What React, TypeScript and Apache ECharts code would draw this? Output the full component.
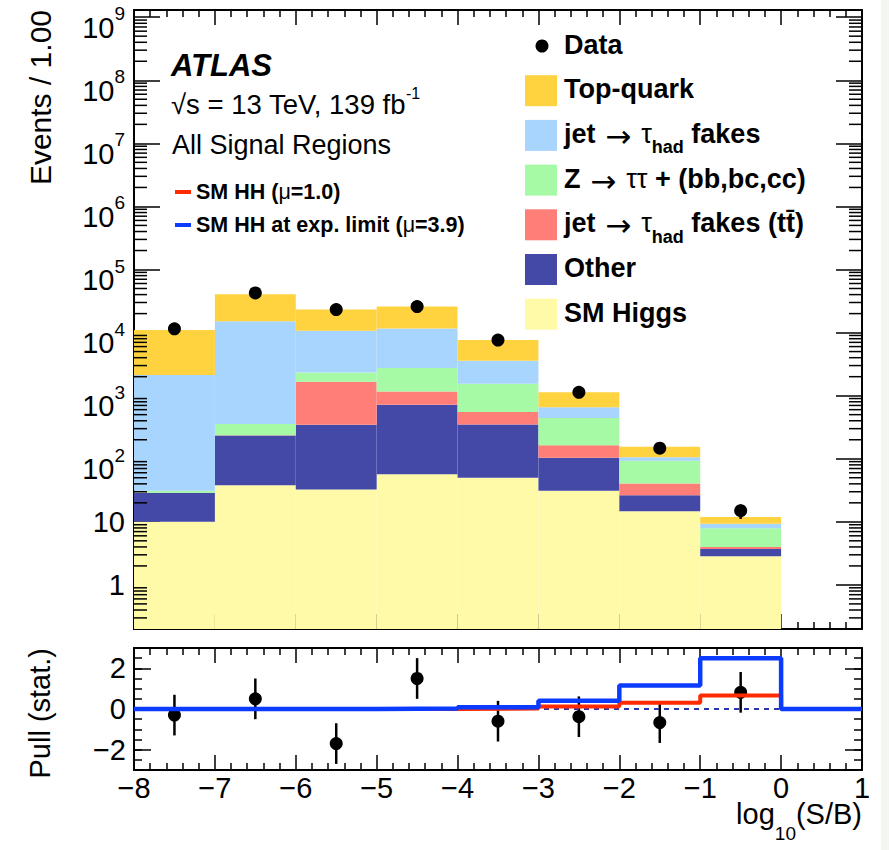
import React, { useEffect, useRef } from 'react';
import * as echarts from 'echarts';

const FONT = '"Liberation Sans", Arial, Helvetica, sans-serif';
const SYMBOL_FONT = '"DejaVu Sans", sans-serif';

// log10(S/B) binning: lower edges of the filled bins, plus the full axis range
const BIN_LOW = [-8, -7, -6, -5, -4, -3, -2, -1];
const BIN_EDGES = [-8, -7, -6, -5, -4, -3, -2, -1, 0, 1];
const X_MIN = -8;
const X_MAX = 1;
const Y_MIN = 0.2;
const Y_MAX = 1.3e9;

// Background yields per bin, listed from the bottom of the stack upwards
const SM_HIGGS = [10, 38, 32.5, 57, 50, 31, 14.7, 2.84];
const OTHER = [19, 196, 315, 659, 298, 73, 11.7, 0.86];
const JET_FAKES_TTBAR = [0, 2, 1322, 444, 205, 60, 14.3, 0.3];
const ZTT_HF = [2, 121, 670, 1590, 987, 280, 52.3, 3.9];
const JET_FAKES = [2100, 14800, 8360, 8850, 2050, 211, 13, 1.4];
const TOP_QUARK = [8900, 25300, 12500, 14200, 4010, 475, 49, 2.6];

// Observed events per bin
const DATA = [11500, 42500, 23200, 25800, 7600, 1130, 147, 15];

// Lower panel: pulls and HH signal contributions (one value per interval, incl. [0,1])
const PULL = [-0.3, 0.5, -1.7, 1.5, -0.6, -0.38, -0.67, 0.82];
const HH_SM = [0, 0, 0, 0.005, 0.02, 0.12, 0.31, 0.67, 0];
const HH_LIMIT = [0, 0, 0, 0.02, 0.08, 0.4, 1.15, 2.5, 0];

const PULL_LABELS = [-2, 0, 2];

// Log-axis minor tick positions: 2..9 times each decade inside the axis range
const DECADES = [-1, 0, 1, 2, 3, 4, 5, 6, 7, 8, 9];
const MANTISSAS = [2, 3, 4, 5, 6, 7, 8, 9];
const LOG_MINOR_TICKS = DECADES.flatMap((k) => MANTISSAS.map((m) => m * Math.pow(10, k))).filter(
  (v) => v > Y_MIN && v < Y_MAX
);

const COLORS = {
  top: '#ffd340',
  jet: '#a8d5fd',
  ztt: '#a6f9a5',
  ttbar: '#ff7f78',
  other: '#4449a8',
  higgs: '#fffaa8',
  hh: '#ff2a00',
  hhLimit: '#0b3bff',
};

const STACK = [
  { name: 'SM Higgs', values: SM_HIGGS, color: COLORS.higgs },
  { name: 'Other', values: OTHER, color: COLORS.other },
  { name: 'jet fakes (ttbar)', values: JET_FAKES_TTBAR, color: COLORS.ttbar },
  { name: 'Ztautau + HF', values: ZTT_HF, color: COLORS.ztt },
  { name: 'jet fakes', values: JET_FAKES, color: COLORS.jet },
  { name: 'Top-quark', values: TOP_QUARK, color: COLORS.top },
];

const ARROW = '{r|\u00a0\u2192\u00a0}';
const LEGEND_ROWS = [
  { color: COLORS.top, text: '{n|Top-quark}' },
  { color: COLORS.jet, text: '{n|jet}' + ARROW + '{a|\u03c4}{u|had}{n|\u00a0fakes}' },
  { color: COLORS.ztt, text: '{n|Z}' + ARROW + '{a|\u03c4\u03c4}{n|\u00a0+ (bb,bc,cc)}' },
  { color: COLORS.ttbar, text: '{n|jet}' + ARROW + '{a|\u03c4}{u|had}{n|\u00a0fakes (tt\u0304)}' },
  { color: COLORS.other, text: '{n|Other}' },
  { color: COLORS.higgs, text: '{n|SM Higgs}' },
];

const BLACK = '#000';
const AXIS_LINE = { show: true, onZero: false, lineStyle: { color: BLACK, width: 2 } };
const NO_AXIS_LINE = { show: false, onZero: false };
const TICK_STYLE = { color: BLACK, width: 1.5 };
const MINOR_TICK_LEN = 13;

function stackSeries() {
  const running = BIN_LOW.map(() => 0);
  return STACK.map((layer) => {
    const data = BIN_LOW.map((x0, i) => {
      const lo = running[i] > 0 ? running[i] : Y_MIN;
      running[i] += layer.values[i];
      return [x0, x0 + 1, lo, Math.max(running[i], Y_MIN)];
    });
    return {
      type: 'custom',
      name: layer.name,
      xAxisIndex: 0,
      yAxisIndex: 0,
      encode: { x: [0, 1], y: [2, 3] },
      data,
      clip: true,
      renderItem: (_p: any, api: any) => {
        const a = api.coord([api.value(0), api.value(3)]);
        const b = api.coord([api.value(1), api.value(2)]);
        return {
          type: 'rect',
          shape: { x: a[0], y: a[1], width: b[0] - a[0], height: b[1] - a[1] },
          style: { fill: layer.color },
        };
      },
    };
  });
}

// Minor ticks of the logarithmic axes, placed through the y scale on both frame sides
function logMinorTickSeries() {
  return {
    type: 'custom',
    xAxisIndex: 0,
    yAxisIndex: 0,
    encode: { x: 0, y: 1 },
    data: LOG_MINOR_TICKS.map((v) => [X_MIN, v]),
    z: 5,
    silent: true,
    renderItem: (_p: any, api: any) => {
      const l = api.coord([X_MIN, api.value(1)]);
      const r = api.coord([X_MAX, api.value(1)]);
      return {
        type: 'group',
        children: [
          {
            type: 'line',
            shape: { x1: l[0], y1: l[1], x2: l[0] + MINOR_TICK_LEN, y2: l[1] },
            style: { stroke: BLACK, lineWidth: 1.5 },
          },
          {
            type: 'line',
            shape: { x1: r[0] - MINOR_TICK_LEN, y1: r[1], x2: r[0], y2: r[1] },
            style: { stroke: BLACK, lineWidth: 1.5 },
          },
        ],
      };
    },
  };
}

function errorBarSeries(xIdx: number, yIdx: number, data: number[][]) {
  return {
    type: 'custom',
    xAxisIndex: xIdx,
    yAxisIndex: yIdx,
    encode: { x: 0, y: [1, 2] },
    data,
    renderItem: (_p: any, api: any) => {
      const a = api.coord([api.value(0), api.value(1)]);
      const b = api.coord([api.value(0), api.value(2)]);
      return {
        type: 'line',
        shape: { x1: a[0], y1: a[1], x2: b[0], y2: b[1] },
        style: { stroke: BLACK, lineWidth: 2.5 },
      };
    },
  };
}

function stepLine(values: number[]) {
  return BIN_EDGES.map((x, i) => [x, values[Math.min(i, values.length - 1)]]);
}

function xAxis(gridIndex: number, position: string, labels: boolean) {
  return {
    type: 'value',
    gridIndex,
    position,
    min: X_MIN,
    max: X_MAX,
    interval: 1,
    axisLine: AXIS_LINE,
    axisTick: { show: true, inside: true, length: 15, lineStyle: TICK_STYLE },
    minorTick: { show: true, splitNumber: 5, length: 7, lineStyle: TICK_STYLE },
    splitLine: { show: false },
    axisLabel: labels
      ? {
          show: true,
          margin: 3,
          fontSize: 29,
          fontFamily: FONT,
          color: BLACK,
          formatter: (v: number) => (v < 0 ? '\u2212' + Math.abs(v) : String(v)),
        }
      : { show: false },
  };
}

function hiddenXAxis(gridIndex: number) {
  return { type: 'value', gridIndex, min: X_MIN, max: X_MAX, show: false };
}

function logYAxis(position: string, labels: boolean) {
  return {
    type: 'log',
    logBase: 10,
    gridIndex: 0,
    position,
    min: Y_MIN,
    max: Y_MAX,
    axisLine: AXIS_LINE,
    axisTick: { show: true, inside: true, length: 26, lineStyle: TICK_STYLE },
    splitLine: { show: false },
    axisLabel: labels
      ? {
          show: true,
          margin: 9,
          color: BLACK,
          fontFamily: FONT,
          formatter: (v: number) => {
            const l = Math.log10(v);
            const k = Math.round(l);
            if (Math.abs(l - k) > 1e-6) return '';
            if (k === 0) return '{b|1}';
            if (k === 1) return '{b|10}';
            return `{p|10}{s|${k}}`;
          },
          rich: {
            b: { fontSize: 29, fontFamily: FONT, color: BLACK },
            p: { fontSize: 29, fontFamily: FONT, color: BLACK, lineHeight: 26, padding: [9, 0, 0, 0], verticalAlign: 'top' },
            s: { fontSize: 19, fontFamily: FONT, color: BLACK, lineHeight: 20, verticalAlign: 'top' },
          },
        }
      : { show: false },
  };
}

function pullYAxis(gridIndex: number, position: string, labels: boolean, major: boolean) {
  return {
    type: 'value',
    gridIndex,
    position,
    min: major ? -2 : -3,
    max: major ? 2 : 3,
    interval: major ? 2 : 0.5,
    axisLine: major ? NO_AXIS_LINE : AXIS_LINE,
    axisTick: { show: true, inside: true, length: major ? 17 : 8, lineStyle: TICK_STYLE },
    splitLine: { show: false },
    axisLabel: labels
      ? {
          show: true,
          margin: 8,
          fontSize: 29,
          fontFamily: FONT,
          color: BLACK,
          formatter: (v: number) =>
            PULL_LABELS.includes(v) ? (v < 0 ? '\u2212' + Math.abs(v) : String(v)) : '',
        }
      : { show: false },
  };
}

function buildOption() {
  const PULL_TOP = 648;
  const PULL_H = 122;
  const perUnit = PULL_H / 6;

  const legendGraphics: any[] = [];
  const rowY = (i: number) => 46 + i * 44.7;
  const legendRich = {
    n: { fontSize: 27, fontWeight: 'bold', fontFamily: FONT, lineHeight: 30, verticalAlign: 'top', fill: BLACK },
    a: { fontSize: 27, fontFamily: FONT, lineHeight: 30, verticalAlign: 'top', fill: BLACK },
    r: { fontSize: 31, fontFamily: SYMBOL_FONT, lineHeight: 30, verticalAlign: 'top', fill: BLACK },
    u: { fontSize: 18, fontWeight: 'bold', fontFamily: FONT, lineHeight: 20, padding: [18, 0, 0, 0], verticalAlign: 'top', fill: BLACK },
  };
  legendGraphics.push({
    type: 'circle',
    shape: { cx: 542, cy: rowY(0), r: 6.5 },
    style: { fill: BLACK },
  });
  legendGraphics.push({
    type: 'text',
    x: 564,
    y: rowY(0) - 15,
    style: { text: '{n|Data}', verticalAlign: 'top', rich: legendRich },
  });
  LEGEND_ROWS.forEach((row, idx) => {
    const y = rowY(idx + 1);
    legendGraphics.push({
      type: 'rect',
      shape: { x: 525, y: y - 15.5, width: 32, height: 31 },
      style: { fill: row.color },
    });
    legendGraphics.push({
      type: 'text',
      x: 564,
      y: y - 15,
      style: { text: row.text, verticalAlign: 'top', rich: legendRich },
    });
  });

  const smallRich = {
    n: { fontSize: 21.5, fontWeight: 'bold', fontFamily: FONT, fill: BLACK },
    g: { fontSize: 21.5, fontFamily: FONT, fill: BLACK },
  };

  return {
    animation: false,
    backgroundColor: '#ffffff',
    grid: [
      { left: 134, top: 10, width: 728, height: 619 },
      { left: 134, top: PULL_TOP, width: 728, height: PULL_H },
      { left: 134, top: PULL_TOP + perUnit, width: 728, height: perUnit * 4 },
    ],
    xAxis: [
      xAxis(0, 'bottom', false),
      xAxis(0, 'top', false),
      xAxis(1, 'bottom', true),
      xAxis(1, 'top', false),
      hiddenXAxis(2),
    ],
    yAxis: [
      logYAxis('left', true),
      logYAxis('right', false),
      pullYAxis(1, 'left', true, false),
      pullYAxis(1, 'right', false, false),
      pullYAxis(2, 'left', false, true),
      pullYAxis(2, 'right', false, true),
    ],
    series: [
      ...stackSeries(),
      logMinorTickSeries(),
      errorBarSeries(
        0,
        0,
        DATA.map((n, i) => [BIN_LOW[i] + 0.5, n - Math.sqrt(n), n + Math.sqrt(n)])
      ),
      {
        type: 'scatter',
        name: 'Data',
        xAxisIndex: 0,
        yAxisIndex: 0,
        symbol: 'circle',
        symbolSize: 13,
        itemStyle: { color: BLACK, opacity: 1 },
        data: DATA.map((n, i) => [BIN_LOW[i] + 0.5, n]),
      },
      {
        type: 'line',
        xAxisIndex: 2,
        yAxisIndex: 2,
        symbol: 'none',
        lineStyle: { color: '#2a36a8', width: 2, type: [5, 5] },
        data: [
          [X_MIN, 0],
          [X_MAX, 0],
        ],
      },
      {
        type: 'line',
        name: 'SM HH (mu=1.0)',
        xAxisIndex: 2,
        yAxisIndex: 2,
        step: 'end',
        symbol: 'none',
        lineStyle: { color: COLORS.hh, width: 4 },
        data: stepLine(HH_SM),
      },
      {
        type: 'line',
        name: 'SM HH at exp. limit (mu=3.9)',
        xAxisIndex: 2,
        yAxisIndex: 2,
        step: 'end',
        symbol: 'none',
        lineStyle: { color: COLORS.hhLimit, width: 4.5 },
        data: stepLine(HH_LIMIT),
      },
      errorBarSeries(
        2,
        2,
        PULL.map((p, i) => [BIN_LOW[i] + 0.5, p - 1, p + 1])
      ),
      {
        type: 'scatter',
        name: 'Pull',
        xAxisIndex: 2,
        yAxisIndex: 2,
        symbol: 'circle',
        symbolSize: 13,
        itemStyle: { color: BLACK, opacity: 1 },
        data: PULL.map((p, i) => [BIN_LOW[i] + 0.5, p]),
      },
    ],
    graphic: [
      { type: 'rect', shape: { x: 881, y: 0, width: 8, height: 850 }, style: { fill: '#f3f6f1' } },
      {
        type: 'text',
        x: 40,
        y: 10,
        rotation: Math.PI / 2,
        style: { text: 'Events / 1.00', fontSize: 30, fontFamily: FONT, fill: BLACK, align: 'right', verticalAlign: 'middle' },
      },
      {
        type: 'text',
        x: 40,
        y: 648,
        rotation: Math.PI / 2,
        style: { text: 'Pull (stat.)', fontSize: 29, fontFamily: FONT, fill: BLACK, align: 'right', verticalAlign: 'middle' },
      },
      {
        type: 'text',
        x: 862,
        y: 799,
        style: {
          text: '{m|log}{s|10}{m|(S/B)}',
          align: 'right',
          verticalAlign: 'top',
          rich: {
            m: { fontSize: 29, fontFamily: FONT, lineHeight: 32, verticalAlign: 'top', fill: BLACK },
            s: { fontSize: 19, fontFamily: FONT, lineHeight: 20, padding: [25, 0, 0, 0], verticalAlign: 'top', fill: BLACK },
          },
        },
      },
      {
        type: 'text',
        x: 171,
        y: 65,
        style: {
          text: 'ATLAS',
          fontSize: 31,
          fontWeight: 'bold',
          fontStyle: 'italic',
          fontFamily: FONT,
          fill: BLACK,
          verticalAlign: 'middle',
        },
      },
      {
        type: 'text',
        x: 171,
        y: 85,
        style: {
          text: '{t|\u221as = 13 TeV, 139 fb}{e|-1}',
          verticalAlign: 'top',
          rich: {
            t: { fontSize: 27.5, fontFamily: FONT, lineHeight: 30, padding: [5, 0, 0, 0], verticalAlign: 'top', fill: BLACK },
            e: { fontSize: 16, fontFamily: FONT, lineHeight: 18, verticalAlign: 'top', fill: BLACK },
          },
        },
      },
      {
        type: 'text',
        x: 172,
        y: 145,
        style: { text: 'All Signal Regions', fontSize: 27, fontFamily: FONT, fill: BLACK, verticalAlign: 'middle' },
      },
      { type: 'line', shape: { x1: 175, y1: 192, x2: 191, y2: 192 }, style: { stroke: COLORS.hh, lineWidth: 4 } },
      {
        type: 'text',
        x: 196,
        y: 192,
        style: { text: '{n|SM HH (}{g|\u03bc}{n|=1.0)}', verticalAlign: 'middle', rich: smallRich },
      },
      { type: 'line', shape: { x1: 175, y1: 225, x2: 191, y2: 225 }, style: { stroke: COLORS.hhLimit, lineWidth: 4 } },
      {
        type: 'text',
        x: 196,
        y: 225,
        style: { text: '{n|SM HH at exp. limit (}{g|\u03bc}{n|=3.9)}', verticalAlign: 'middle', rich: smallRich },
      },
      ...legendGraphics,
    ],
  };
}

export default function App() {
  const ref = useRef<HTMLDivElement>(null);
  useEffect(() => {
    document.body.style.margin = '0';
    const chart = echarts.init(ref.current as HTMLDivElement, null, { renderer: 'svg' });
    chart.setOption(buildOption() as any);
    return () => chart.dispose();
  }, []);
  return <div ref={ref} style={{ width: 889, height: 850 }} />;
}
